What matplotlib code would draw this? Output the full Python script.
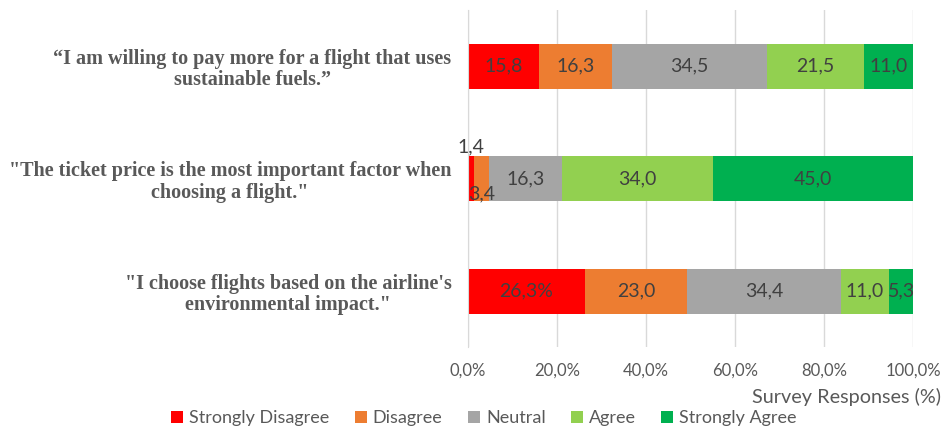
import matplotlib
matplotlib.use("Agg")
import matplotlib.pyplot as plt
import numpy as np

statements = [
    "\"I choose flights based on the airline's\nenvironmental impact.\"",
    "\"The ticket price is the most important factor when\nchoosing a flight.\"",
    "\u201cI am willing to pay more for a flight that uses\nsustainable fuels.\u201d",
]
categories = ["Strongly Disagree", "Disagree", "Neutral", "Agree", "Strongly Agree"]
strongly_disagree = [26.3, 1.4, 15.8]
disagree = [23.0, 3.4, 16.3]
neutral = [34.4, 16.3, 34.5]
agree = [11.0, 34.0, 21.5]
strongly_agree = [5.3, 45.0, 11.0]
label_texts = [
    ["26,3%", "1,4", "15,8"],
    ["23,0", "3,4", "16,3"],
    ["34,4", "16,3", "34,5"],
    ["11,0", "34,0", "21,5"],
    ["5,3", "45,0", "11,0"],
]
xticks = [0, 20, 40, 60, 80, 100]
xtick_labels = ["0,0%", "20,0%", "40,0%", "60,0%", "80,0%", "100,0%"]

colors = ["#FF0000", "#ED7D31", "#A5A5A5", "#92D050", "#00B050"]
series = [strongly_disagree, disagree, neutral, agree, strongly_agree]

# 100% stacked: normalise each row
data = np.array(series, dtype=float)
totals = data.sum(axis=0)
shares = data / totals * 100

fig = plt.figure(figsize=(9.49, 4.29), dpi=100)
ax = fig.add_axes([0.4932, 0.19, 0.9621 - 0.4932, 0.9767 - 0.19])

sans = ["Lato", "DejaVu Sans"]
y = np.arange(len(statements))
left = np.zeros(len(statements))
for s, (vals, col, name) in enumerate(zip(shares, colors, categories)):
    ax.barh(y, vals, left=left, height=0.4, color=col, label=name, zorder=3)
    for i in range(len(statements)):
        cx = left[i] + vals[i] / 2
        txt = label_texts[s][i]
        if i == 1 and s == 0:
            ax.annotate(txt, (cx, y[i] + 0.2), xytext=(0, 1), textcoords="offset pixels",
                        ha="center", va="bottom", fontsize=14, color="#404040", family=sans, zorder=4)
        elif i == 1 and s == 1:
            ax.annotate(txt, (cx, y[i]), xytext=(0, -15), textcoords="offset pixels",
                        ha="center", va="center", fontsize=14, color="#404040", family=sans, zorder=4)
        else:
            ax.text(cx, y[i], txt, ha="center", va="center", fontsize=14,
                    color="#404040", family=sans, zorder=4)
    left = left + vals

ax.set_xlim(0, 100)
ax.set_ylim(-0.5, 2.5)
ax.set_xticks(xticks)
ax.set_xticklabels(xtick_labels, family=sans, fontsize=12, color="#595959")
ax.set_yticks(y)
ax.set_yticklabels(statements, family="Liberation Serif", fontweight="bold",
                   fontsize=14.5, color="#595959", ha="right", multialignment="center",
                   linespacing=1.1)
ax.tick_params(axis="x", length=0, pad=11)
ax.tick_params(axis="y", length=0, pad=12)
ax.grid(axis="x", color="#D9D9D9", linewidth=1, zorder=0)
for sp in ["top", "right", "bottom"]:
    ax.spines[sp].set_visible(False)
ax.spines["left"].set_color("#D9D9D9")
ax.spines["left"].set_zorder(5)

fig.text(941 / 949, 1 - 397 / 429, "Survey Responses (%)", ha="right", va="center",
         fontsize=14.3, color="#595959", family=sans)

handles, labels = ax.get_legend_handles_labels()
fig.legend(handles, labels, loc="center", bbox_to_anchor=(484 / 949, 1 - 418 / 429),
           ncol=5, frameon=False, prop={"family": sans, "size": 13},
           handlelength=0.65, handleheight=0.65, handletextpad=0.35, columnspacing=1.4,
           labelcolor="#595959")

fig.savefig("out.png", dpi=100)
